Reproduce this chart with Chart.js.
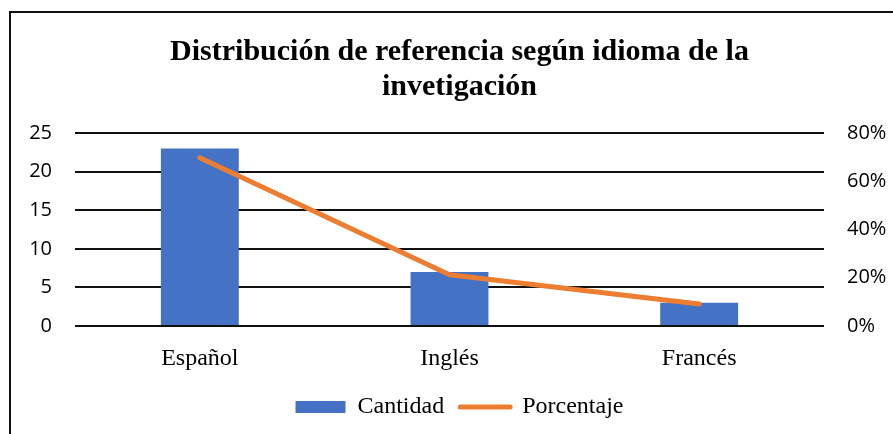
<!DOCTYPE html>
<html>
<head>
<meta charset="utf-8">
<script src="https://cdn.jsdelivr.net/npm/chart.js@4"></script>
<style>
  html, body { margin: 0; padding: 0; background: #fff; overflow: hidden; }
  #wrap { position: relative; width: 893px; height: 434px; }
  #frame {
    position: absolute; left: 9px; top: 11px; width: 1000px; height: 1000px;
    border: 2px solid #111; pointer-events: none;
  }
</style>
</head>
<body>
<div id="wrap">
  <canvas id="chart"></canvas>
  <div id="frame"></div>
</div>
<script>
const idiomas = ["Español", "Inglés", "Francés"];
const cantidad = [23, 7, 3];
const porcentaje = [69.7, 21.2, 9.1];
const tituloLineas = ["Distribución de referencia según idioma de la", "invetigación"];

const azul = "#4472C4";
const naranja = "#ED7D31";

const canvas = document.getElementById("chart");

const chart = new Chart(canvas, {
    data: {
        labels: idiomas,
        datasets: [
            {
                type: "line",
                label: "Porcentaje",
                data: porcentaje,
                yAxisID: "y1",
                borderColor: naranja,
                backgroundColor: naranja,
                borderWidth: 5,
                borderCapStyle: "round",
                borderJoinStyle: "round",
                pointRadius: 0,
                order: 1
            },
            {
                type: "bar",
                label: "Cantidad",
                data: cantidad,
                yAxisID: "y",
                backgroundColor: azul,
                barPercentage: 1,
                categoryPercentage: 0.312,
                order: 2
            }
        ]
    },
    options: {
        responsive: true,
        maintainAspectRatio: false,
        animation: false,
        layout: {
            padding: { left: 26, right: 0, top: 0, bottom: 5 }
        },
        plugins: {
            tooltip: { enabled: false },
            title: {
                display: true,
                text: tituloLineas,
                color: "#000",
                font: { family: "'Liberation Serif'", size: 30, weight: "bold", lineHeight: 1.15 },
                padding: { top: 35, bottom: 29 }
            },
            legend: {
                position: "bottom",
                labels: {
                    color: "#000",
                    font: { family: "'Liberation Serif'", size: 24 },
                    usePointStyle: true,
                    pointStyleWidth: 50,
                    boxHeight: 12,
                    padding: 16,
                    generateLabels: () => [
                        {
                            text: "Cantidad",
                            fillStyle: azul,
                            strokeStyle: azul,
                            lineWidth: 0,
                            pointStyle: "rect",
                            datasetIndex: 1
                        },
                        {
                            text: "Porcentaje",
                            fillStyle: naranja,
                            strokeStyle: naranja,
                            lineWidth: 5,
                            lineCap: "round",
                            pointStyle: "line",
                            datasetIndex: 0
                        }
                    ]
                }
            }
        },
        scales: {
            x: {
                grid: { display: false },
                border: { display: false },
                ticks: {
                    color: "#000",
                    font: { family: "'Liberation Serif'", size: 24 },
                    padding: 10
                },
                afterFit: scale => { scale.height = 53; }
            },
            y: {
                position: "left",
                min: 0,
                max: 25,
                grid: { color: "#111", lineWidth: 2, drawTicks: false },
                border: { display: false },
                ticks: {
                    stepSize: 5,
                    color: "#000",
                    font: { family: "'Open Sans'", size: 20 },
                    padding: 23
                },
                afterFit: scale => { scale.width = 49; }
            },
            y1: {
                position: "right",
                min: 0,
                max: 80,
                grid: { display: false, drawTicks: false },
                border: { display: false },
                ticks: {
                    stepSize: 20,
                    color: "#000",
                    font: { family: "'Open Sans'", size: 20 },
                    padding: 23,
                    callback: v => Math.round(v) + "%"
                },
                afterFit: scale => { scale.width = 69; }
            }
        }
    }
});
</script>
</body>
</html>
